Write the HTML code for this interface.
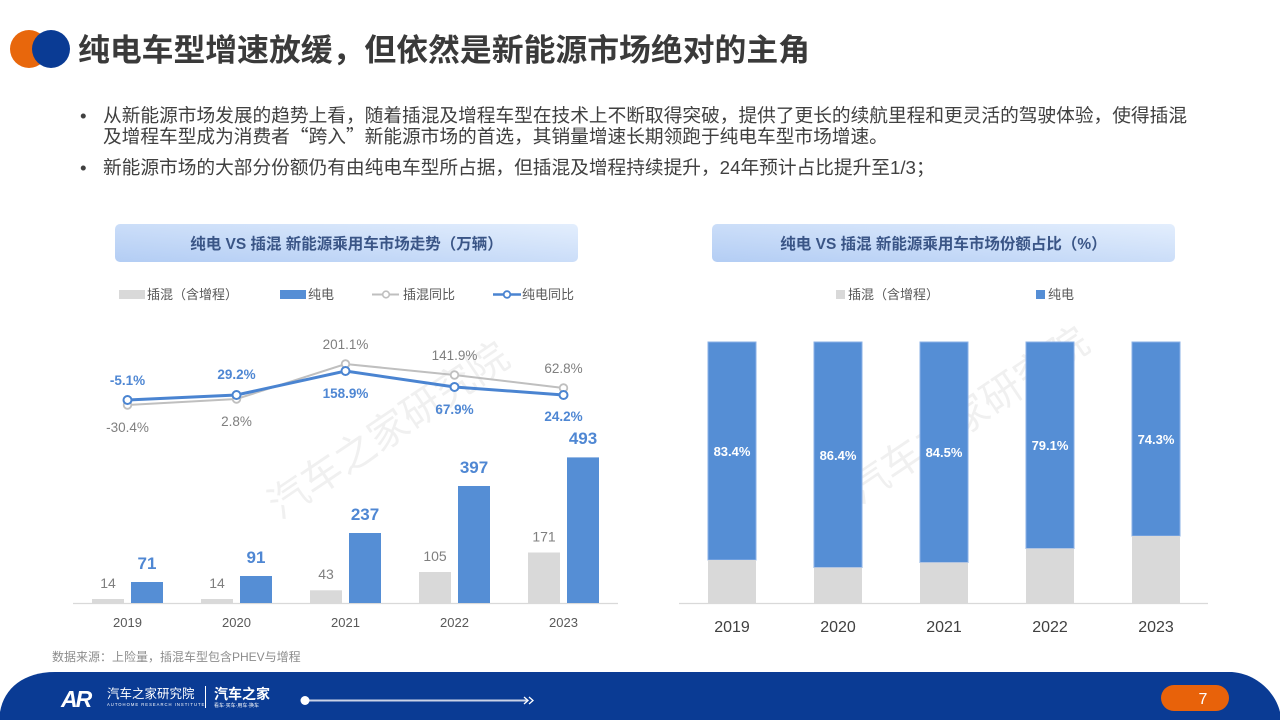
<!DOCTYPE html>
<html><head><meta charset="utf-8"><style>
html,body{margin:0;padding:0;background:#fff;}
svg{display:block;}
text{font-family:"Liberation Sans","Noto Sans CJK SC",sans-serif;}
.cjk{font-family:"Noto Sans CJK SC","Liberation Sans",sans-serif;}
</style></head><body>
<svg width="1280" height="720" viewBox="0 0 1280 720" xmlns="http://www.w3.org/2000/svg">
<defs>
<linearGradient id="bx" x1="0" y1="1" x2="1" y2="0">
<stop offset="0" stop-color="#b3cdf4"/><stop offset="1" stop-color="#e3eefd"/>
</linearGradient>
</defs>
<rect width="1280" height="720" fill="#fff"/>

<!-- header -->
<circle cx="29" cy="49" r="19" fill="#e8670c"/>
<circle cx="51" cy="49" r="19" fill="#0a3b94"/>
<text x="78" y="61" font-size="31" font-weight="700" fill="#3a3a3a" textLength="732" lengthAdjust="spacingAndGlyphs">纯电车型增速放缓，但依然是新能源市场绝对的主角</text>

<!-- bullets -->
<g fill="#404040" font-size="18.7">
<text x="80" y="122">•</text>
<text x="103" y="122" textLength="1084" lengthAdjust="spacing">从新能源市场发展的趋势上看，随着插混及增程车型在技术上不断取得突破，提供了更长的续航里程和更灵活的驾驶体验，使得插混</text>
<text x="103" y="143">及增程车型成为消费者<tspan class="cjk">“</tspan>跨入<tspan class="cjk">”</tspan>新能源市场的首选，其销量增速长期领跑于纯电车型市场增速。</text>
<text x="80" y="174">•</text>
<text x="103" y="174">新能源市场的大部分份额仍有由纯电车型所占据，但插混及增程持续提升，24年预计占比提升至1/3；</text>
</g>

<!-- watermarks -->
<g fill="#000" fill-opacity="0.06" font-size="40">
<text x="0" y="0" transform="translate(280,520) rotate(-34)">汽车之家研究院</text>
<text x="0" y="0" transform="translate(860,505) rotate(-34)">汽车之家研究院</text>
</g>

<!-- left chart title -->
<rect x="115" y="224" width="463" height="38" rx="5" fill="url(#bx)"/>
<text x="346.5" y="249" text-anchor="middle" font-size="15.5" font-weight="700" fill="#3a5586">纯电 VS 插混 新能源乘用车市场走势（万辆）</text>

<!-- left legend -->
<g font-size="13" fill="#595959">
<rect x="119" y="290" width="26" height="9" fill="#d9d9d9"/>
<text x="147" y="299">插混（含增程）</text>
<rect x="280" y="290" width="26" height="9" fill="#558ed5"/>
<text x="308" y="299">纯电</text>
<line x1="372" y1="294.5" x2="399" y2="294.5" stroke="#bfbfbf" stroke-width="2"/>
<circle cx="386" cy="294.5" r="3.3" fill="#fff" stroke="#bfbfbf" stroke-width="1.6"/>
<text x="403" y="299">插混同比</text>
<line x1="493" y1="294.5" x2="521" y2="294.5" stroke="#4a84d1" stroke-width="2.5"/>
<circle cx="507" cy="294.5" r="3.3" fill="#fff" stroke="#4a84d1" stroke-width="1.8"/>
<text x="522" y="299">纯电同比</text>
</g>

<!-- left bars -->
<line x1="73" y1="603.5" x2="618" y2="603.5" stroke="#d9d9d9" stroke-width="1.2"/>
<g fill="#d9d9d9">
<rect x="92" y="599" width="32" height="4"/>
<rect x="201" y="599" width="32" height="4"/>
<rect x="310" y="590.3" width="32" height="12.7"/>
<rect x="419" y="572" width="32" height="31"/>
<rect x="528" y="552.5" width="32" height="50.5"/>
</g>
<g fill="#558ed5">
<rect x="131" y="582" width="32" height="21"/>
<rect x="240" y="576" width="32" height="27"/>
<rect x="349" y="533" width="32" height="70"/>
<rect x="458" y="486" width="32" height="117"/>
<rect x="567" y="457.4" width="32" height="145.6"/>
</g>
<g font-size="14" fill="#7f7f7f" text-anchor="middle">
<text x="108" y="588">14</text>
<text x="217" y="588">14</text>
<text x="326" y="579">43</text>
<text x="435" y="561">105</text>
<text x="544" y="541.5">171</text>
</g>
<g font-size="17" font-weight="700" fill="#4f87d3" text-anchor="middle">
<text x="147" y="569">71</text>
<text x="256" y="563">91</text>
<text x="365" y="520">237</text>
<text x="474" y="473">397</text>
<text x="583" y="444">493</text>
</g>
<g font-size="13" fill="#595959" text-anchor="middle">
<text x="127.5" y="627">2019</text>
<text x="236.5" y="627">2020</text>
<text x="345.5" y="627">2021</text>
<text x="454.5" y="627">2022</text>
<text x="563.5" y="627">2023</text>
</g>

<!-- left lines -->
<polyline points="127.5,405 236.5,399 345.5,364 454.5,375 563.5,388" fill="none" stroke="#bfbfbf" stroke-width="2"/>
<g fill="#fff" stroke="#bfbfbf" stroke-width="1.8">
<circle cx="127.5" cy="405" r="3.8"/><circle cx="236.5" cy="399" r="3.8"/><circle cx="345.5" cy="364" r="3.8"/><circle cx="454.5" cy="375" r="3.8"/><circle cx="563.5" cy="388" r="3.8"/>
</g>
<polyline points="127.5,400 236.5,395 345.5,371 454.5,387 563.5,395" fill="none" stroke="#4a84d1" stroke-width="3"/>
<g fill="#fff" stroke="#4a84d1" stroke-width="2">
<circle cx="127.5" cy="400" r="4"/><circle cx="236.5" cy="395" r="4"/><circle cx="345.5" cy="371" r="4"/><circle cx="454.5" cy="387" r="4"/><circle cx="563.5" cy="395" r="4"/>
</g>
<g font-size="13.5" fill="#7f7f7f" text-anchor="middle">
<text x="127.5" y="432">-30.4%</text>
<text x="236.5" y="426">2.8%</text>
<text x="345.5" y="349">201.1%</text>
<text x="454.5" y="360">141.9%</text>
<text x="563.5" y="373">62.8%</text>
</g>
<g font-size="13.5" font-weight="700" fill="#4f87d3" text-anchor="middle">
<text x="127.5" y="385">-5.1%</text>
<text x="236.5" y="379">29.2%</text>
<text x="345.5" y="398">158.9%</text>
<text x="454.5" y="414">67.9%</text>
<text x="563.5" y="421">24.2%</text>
</g>

<!-- right chart title -->
<rect x="712" y="224" width="463" height="38" rx="5" fill="url(#bx)"/>
<text x="943.5" y="249" text-anchor="middle" font-size="15.5" font-weight="700" fill="#3a5586">纯电 VS 插混 新能源乘用车市场份额占比（%）</text>

<!-- right legend -->
<g font-size="13" fill="#595959">
<rect x="836" y="290" width="9" height="9" fill="#d9d9d9"/>
<text x="848" y="299">插混（含增程）</text>
<rect x="1036" y="290" width="9" height="9" fill="#558ed5"/>
<text x="1048" y="299">纯电</text>
</g>

<!-- right bars -->
<line x1="679" y1="603.5" x2="1208" y2="603.5" stroke="#d9d9d9" stroke-width="1.2"/>
<g fill="#558ed5" stroke="#8ab0e6" stroke-width="1">
<rect x="708" y="342" width="48" height="218"/>
<rect x="814" y="342" width="48" height="225.5"/>
<rect x="920" y="342" width="48" height="220.5"/>
<rect x="1026" y="342" width="48" height="206.5"/>
<rect x="1132" y="342" width="48" height="194"/>
</g>
<g fill="#d9d9d9">
<rect x="708" y="560" width="48" height="43"/>
<rect x="814" y="567.5" width="48" height="35.5"/>
<rect x="920" y="562.5" width="48" height="40.5"/>
<rect x="1026" y="548.5" width="48" height="54.5"/>
<rect x="1132" y="536" width="48" height="67"/>
</g>
<g font-size="13" font-weight="700" fill="#fff" text-anchor="middle">
<text x="732" y="456">83.4%</text>
<text x="838" y="460">86.4%</text>
<text x="944" y="457">84.5%</text>
<text x="1050" y="450">79.1%</text>
<text x="1156" y="444">74.3%</text>
</g>
<g font-size="16" fill="#404040" text-anchor="middle">
<text x="732" y="632">2019</text>
<text x="838" y="632">2020</text>
<text x="944" y="632">2021</text>
<text x="1050" y="632">2022</text>
<text x="1156" y="632">2023</text>
</g>

<!-- source -->
<text x="52" y="661" font-size="12" fill="#8c8c8c">数据来源：上险量，插混车型包含PHEV与增程</text>

<!-- footer -->
<path d="M0,720 L0,712 C4,688 24,672 55,672 L1232,672 C1258,674 1276,694 1280,712 L1280,720 Z" fill="#0a3b94"/>
<text x="61" y="707" font-size="23" font-weight="700" font-style="italic" fill="#fff" letter-spacing="-2">AR</text>
<text x="107" y="698" font-size="12.5" fill="#fff">汽车之家研究院</text>
<text x="107" y="706" font-size="4.2" fill="#fff" letter-spacing="1">AUTOHOME RESEARCH INSTITUTE</text>
<line x1="205.5" y1="686" x2="205.5" y2="708" stroke="#fff" stroke-width="1"/>
<text x="214" y="699" font-size="14" font-weight="700" fill="#fff">汽车之家</text>
<text x="214" y="707" font-size="5" fill="#fff">看车·买车·用车·换车</text>
<line x1="305" y1="700.5" x2="528" y2="700.5" stroke="#c9d2e6" stroke-width="2"/>
<circle cx="305" cy="700.5" r="4.5" fill="#fff"/>
<polyline points="524,697 528,700.5 524,704" fill="none" stroke="#fff" stroke-width="1.3"/>
<polyline points="529,697 533,700.5 529,704" fill="none" stroke="#fff" stroke-width="1.3"/>
<rect x="1161" y="685" width="68" height="26" rx="13" fill="#e8620a"/>
<text x="1203" y="704" font-size="16" fill="#fff" text-anchor="middle">7</text>
</svg>
</body></html>
